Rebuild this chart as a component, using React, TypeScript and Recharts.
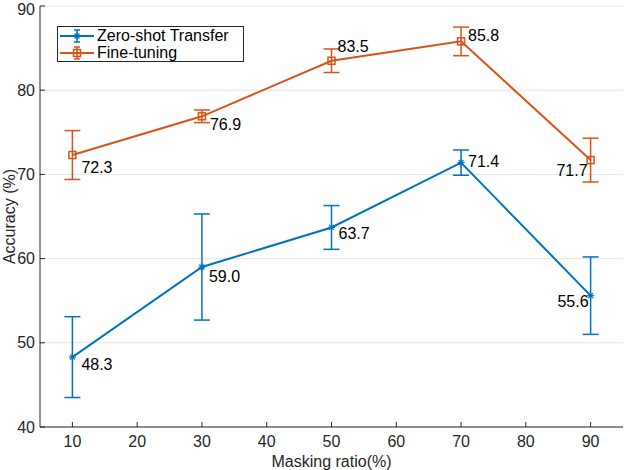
import {
  LineChart,
  Line,
  XAxis,
  YAxis,
  CartesianGrid,
  ErrorBar,
  LabelList,
  Legend,
} from "recharts";

const ratios = [10, 30, 50, 70, 90];
const zeroShot = [48.3, 59.0, 63.7, 71.4, 55.6];
const zeroShotErr = [4.8, 6.3, 2.6, 1.5, 4.6];
const fineTuning = [72.3, 76.9, 83.5, 85.8, 71.7];
const fineTuningErr = [2.9, 0.75, 1.4, 1.7, 2.6];
const xTicks = [10, 20, 30, 40, 50, 60, 70, 80, 90];
const yTicks = [40, 50, 60, 70, 80, 90];

const BLUE = "#0072BD";
const ORANGE = "#D95319";
const AXIS = "#262626";
const FONT = '"Liberation Sans", Arial, Helvetica, sans-serif';

const data = ratios.map((r, i) => ({
  ratio: r,
  zs: zeroShot[i],
  zsErr: zeroShotErr[i],
  ft: fineTuning[i],
  ftErr: fineTuningErr[i],
}));

// label nudges per point: dx, dy, anchor
const zsLabelPos: [number, number, string][] = [
  [9, 7, "start"],
  [7, 9, "start"],
  [7, 6, "start"],
  [7, -1, "start"],
  [-2, 6, "end"],
];
const ftLabelPos: [number, number, string][] = [
  [9, 12, "start"],
  [8, 8, "start"],
  [6, -14, "start"],
  [7, -6, "start"],
  [-3, 10, "end"],
];

const makeLabel = (pos: [number, number, string][]) => (props: any) => {
  const { x, y, value, index } = props;
  const [dx, dy, anchor] = pos[index];
  return (
    <text
      x={Number(x) + dx}
      y={Number(y) + dy}
      textAnchor={anchor as any}
      dominantBaseline="central"
      fontSize={16}
      fontFamily={FONT}
      fill="#000"
    >
      {Number(value).toFixed(1)}
    </text>
  );
};

function Asterisk({ cx, cy, color }: { cx: number; cy: number; color: string }) {
  const s = 3.5;
  const d = 2.5;
  return (
    <g stroke={color} strokeWidth={1.2}>
      <line x1={cx - s} y1={cy} x2={cx + s} y2={cy} />
      <line x1={cx} y1={cy - s} x2={cx} y2={cy + s} />
      <line x1={cx - d} y1={cy - d} x2={cx + d} y2={cy + d} />
      <line x1={cx - d} y1={cy + d} x2={cx + d} y2={cy - d} />
    </g>
  );
}

function Square({ cx, cy, color }: { cx: number; cy: number; color: string }) {
  return (
    <rect x={cx - 3.5} y={cy - 3.5} width={7} height={7} fill="none" stroke={color} strokeWidth={1.5} />
  );
}

function LegendIcon({ color, square }: { color: string; square?: boolean }) {
  return (
    <svg width={37} height={18} style={{ display: "block" }}>
      <line x1={2} y1={9} x2={36} y2={9} stroke={color} strokeWidth={2} />
      <line x1={19} y1={3} x2={19} y2={15} stroke={color} strokeWidth={1.5} />
      <line x1={16} y1={3} x2={22} y2={3} stroke={color} strokeWidth={1.5} />
      <line x1={16} y1={15} x2={22} y2={15} stroke={color} strokeWidth={1.5} />
      {square ? <Square cx={19} cy={9} color={color} /> : <Asterisk cx={19} cy={9} color={color} />}
    </svg>
  );
}

function LegendBox() {
  const rows = [
    { name: "Zero-shot Transfer", color: BLUE, square: false },
    { name: "Fine-tuning", color: ORANGE, square: true },
  ];
  return (
    <div
      style={{
        border: `1px solid ${AXIS}`,
        background: "#fff",
        width: 187,
        height: 36,
        boxSizing: "border-box",
        fontFamily: FONT,
        fontSize: 16,
        color: "#000",
      }}
    >
      {rows.map((r) => (
        <div key={r.name} style={{ display: "flex", alignItems: "center", height: 17 }}>
          <LegendIcon color={r.color} square={r.square} />
          <span style={{ marginLeft: 2, lineHeight: "17px" }}>{r.name}</span>
        </div>
      ))}
    </div>
  );
}

function YLabel(props: any) {
  const vb = props.viewBox || { x: 0, y: 6, width: 40, height: 421 };
  const x = 9;
  const y = vb.y + vb.height / 2;
  return (
    <text
      x={x}
      y={y}
      transform={`rotate(-90 ${x} ${y})`}
      textAnchor="middle"
      dominantBaseline="central"
      fontSize={16}
      fontFamily={FONT}
      fill={AXIS}
    >
      Accuracy (%)
    </text>
  );
}

export default function App() {
  const tickStyle = { fill: AXIS, fontSize: 16, fontFamily: FONT };
  return (
    <div style={{ position: "absolute", left: 0, top: 0, fontFamily: FONT }}>
      <LineChart width={626} height={470} data={data} margin={{ top: 6, right: 3, bottom: 0, left: 0 }}>
        <CartesianGrid horizontal vertical={false} stroke="#e6e6e6" />
        <XAxis
          dataKey="ratio"
          type="number"
          domain={[5, 95]}
          ticks={xTicks}
          height={43}
          stroke={AXIS}
          tickSize={-5}
          tickMargin={14}
          tick={tickStyle}
          label={{
            value: "Masking ratio(%)",
            position: "insideBottom",
            offset: 3,
            fill: AXIS,
            fontSize: 16,
            fontFamily: FONT,
          }}
        />
        <XAxis
          xAxisId="top"
          orientation="top"
          type="number"
          domain={[5, 95]}
          ticks={xTicks}
          height={0}
          stroke={AXIS}
          tickSize={-5}
          tickFormatter={() => ""}
        />
        <YAxis
          type="number"
          domain={[40, 90]}
          ticks={yTicks}
          width={40}
          stroke={AXIS}
          tickSize={-5}
          tickMargin={10}
          tick={tickStyle}
          label={<YLabel />}
        />
        <YAxis
          yAxisId="right"
          orientation="right"
          type="number"
          domain={[40, 90]}
          ticks={yTicks}
          width={0}
          stroke={AXIS}
          tickSize={-5}
          tickFormatter={() => ""}
        />
        <Legend
          layout="vertical"
          align="center"
          verticalAlign="middle"
          content={<LegendBox />}
          wrapperStyle={{ left: 57, top: 26, width: 187, height: 36 }}
        />
        <Line
          dataKey="zs"
          stroke={BLUE}
          strokeWidth={2}
          isAnimationActive={false}
          dot={(p: any) => <Asterisk key={`zs-${p.index}`} cx={p.cx} cy={p.cy} color={BLUE} />}
          activeDot={false}
        >
          <ErrorBar dataKey="zsErr" width={8} stroke={BLUE} strokeWidth={1.5} direction="y" isAnimationActive={false} />
          <LabelList dataKey="zs" content={makeLabel(zsLabelPos)} />
        </Line>
        <Line
          dataKey="ft"
          stroke={ORANGE}
          strokeWidth={2}
          isAnimationActive={false}
          dot={(p: any) => <Square key={`ft-${p.index}`} cx={p.cx} cy={p.cy} color={ORANGE} />}
          activeDot={false}
        >
          <ErrorBar dataKey="ftErr" width={8} stroke={ORANGE} strokeWidth={1.5} direction="y" isAnimationActive={false} />
          <LabelList dataKey="ft" content={makeLabel(ftLabelPos)} />
        </Line>
      </LineChart>
    </div>
  );
}
